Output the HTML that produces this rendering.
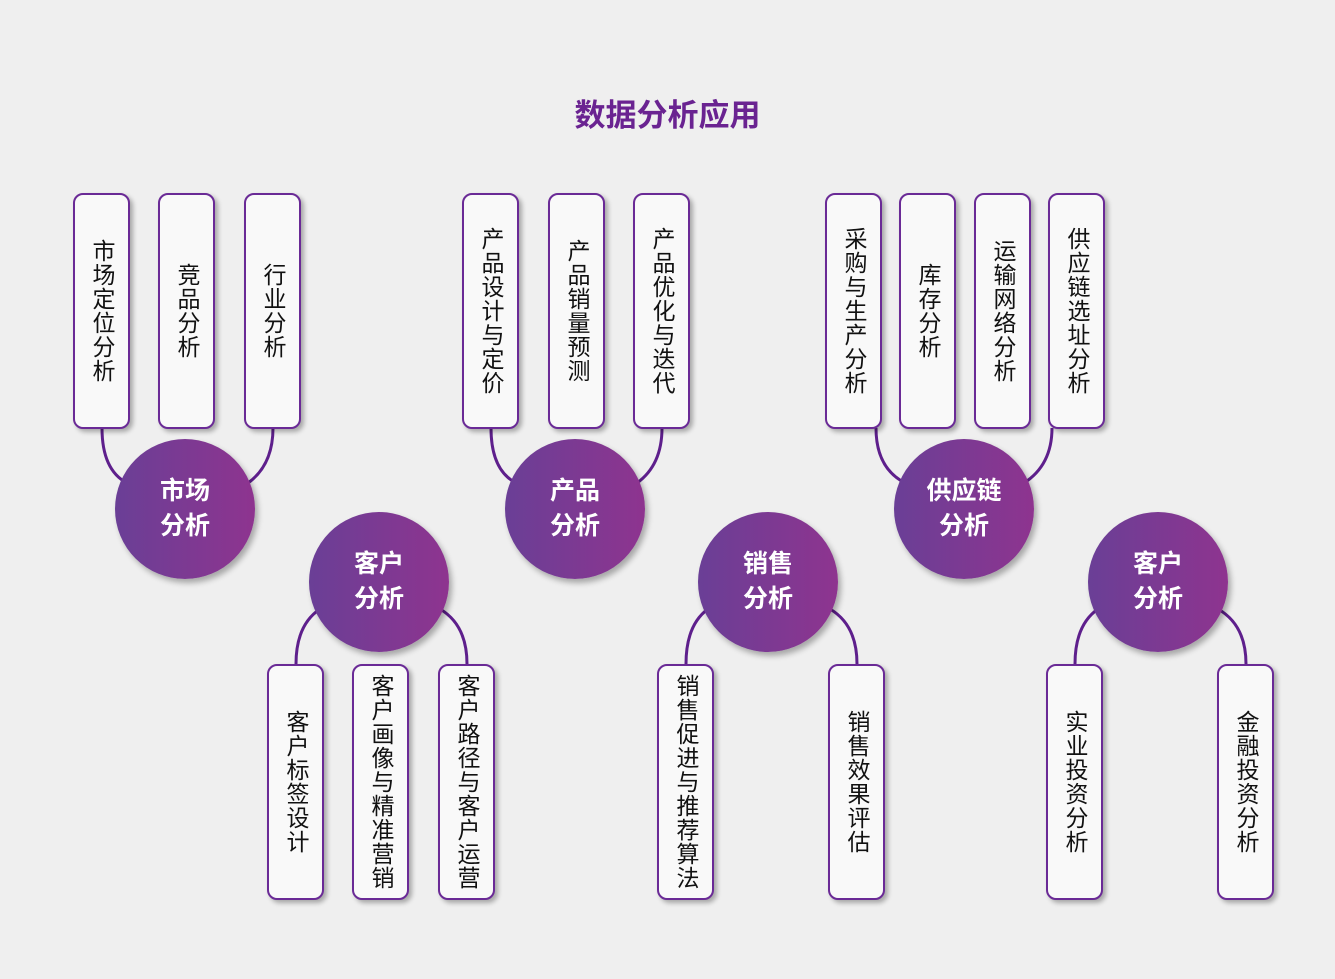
<!DOCTYPE html>
<html><head><meta charset="utf-8"><style>
body{margin:0;width:1335px;height:979px;background:#efefef;position:relative;overflow:hidden;font-family:"Liberation Sans","Noto Sans CJK SC",sans-serif;}
.t{position:absolute;left:0;width:1335px;top:90px;text-align:center;font-size:31px;font-weight:bold;color:#6a2391;letter-spacing:0px}
.b{position:absolute;width:53px;height:232px;border:2px solid #6a2a96;border-radius:10px;background:#f9f9f9;box-shadow:3px 3px 5px rgba(0,0,0,0.3);display:flex;align-items:center;justify-content:center}
.b span{writing-mode:vertical-rl;font-size:23px;line-height:25px;color:#111;letter-spacing:1px}
.c{position:absolute;width:140px;height:140px;border-radius:50%;background:linear-gradient(90deg,#6a3f96,#8e348f);box-shadow:3px 4px 6px rgba(0,0,0,0.3);color:#fff;font-weight:bold;font-size:25px;line-height:35px;display:flex;align-items:center;justify-content:center;text-align:center}
svg{position:absolute;left:0;top:0}
</style></head><body>
<div class="t">数据分析应用</div>
<svg width="1335" height="979"><g fill="none" stroke="#5e1f8c" stroke-width="3">
<path d="M102 428 Q102 470 127 483"/><path d="M273 428 Q273 465 248 483"/>
<path d="M491 428 Q491 470 516 483"/><path d="M662 428 Q662 465 637 483"/>
<path d="M876 428 Q876 468 905 483"/><path d="M1052 428 Q1052 465 1024 483"/>
<path d="M296 664 Q296 625 320 609"/><path d="M467 664 Q467 625 440 609"/>
<path d="M686 664 Q686 625 708 609"/><path d="M857 664 Q857 625 830 609"/>
<path d="M1075 664 Q1075 625 1098 609"/><path d="M1246 664 Q1246 625 1218 609"/>
</g></svg>
<div class="b" style="left:73px;top:193px"><span>市场定位分析</span></div>
<div class="b" style="left:158px;top:193px"><span>竞品分析</span></div>
<div class="b" style="left:244px;top:193px"><span>行业分析</span></div>
<div class="b" style="left:462px;top:193px"><span>产品设计与定价</span></div>
<div class="b" style="left:548px;top:193px"><span>产品销量预测</span></div>
<div class="b" style="left:633px;top:193px"><span>产品优化与迭代</span></div>
<div class="b" style="left:825px;top:193px"><span>采购与生产分析</span></div>
<div class="b" style="left:899px;top:193px"><span>库存分析</span></div>
<div class="b" style="left:974px;top:193px"><span>运输网络分析</span></div>
<div class="b" style="left:1048px;top:193px"><span>供应链选址分析</span></div>
<div class="b" style="left:267px;top:664px"><span>客户标签设计</span></div>
<div class="b" style="left:352px;top:664px"><span>客户画像与精准营销</span></div>
<div class="b" style="left:438px;top:664px"><span>客户路径与客户运营</span></div>
<div class="b" style="left:657px;top:664px"><span>销售促进与推荐算法</span></div>
<div class="b" style="left:828px;top:664px"><span>销售效果评估</span></div>
<div class="b" style="left:1046px;top:664px"><span>实业投资分析</span></div>
<div class="b" style="left:1217px;top:664px"><span>金融投资分析</span></div>
<div class="c" style="left:115px;top:439px">市场<br>分析</div>
<div class="c" style="left:505px;top:439px">产品<br>分析</div>
<div class="c" style="left:894px;top:439px">供应链<br>分析</div>
<div class="c" style="left:309px;top:512px">客户<br>分析</div>
<div class="c" style="left:698px;top:512px">销售<br>分析</div>
<div class="c" style="left:1088px;top:512px">客户<br>分析</div>
</body></html>
